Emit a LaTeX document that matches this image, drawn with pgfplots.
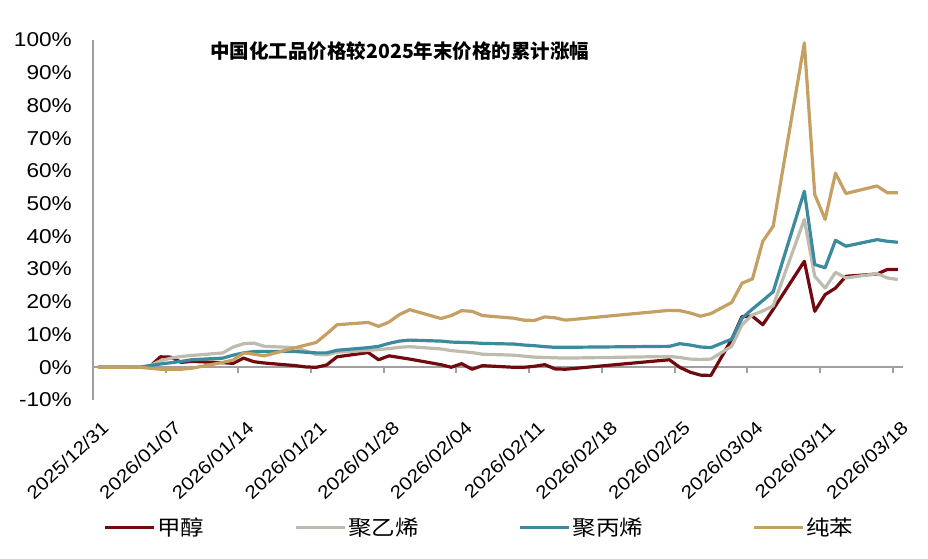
\documentclass[border=0pt]{standalone}
\usepackage{pgfplots}
\pgfplotsset{compat=1.18}
\usepackage{fontspec}
\setmainfont{Liberation Sans}[FakeStretch=1.13]
\newfontfamily\cjk{Noto Sans CJK SC}[FakeStretch=1.12]
\newfontfamily\cjktitle{Noto Sans CJK SC}

\definecolor{cmeth}{RGB}{112,10,14}
\definecolor{cpe}{RGB}{190,188,174}
\definecolor{cpp}{RGB}{60,138,158}
\definecolor{cbz}{RGB}{196,160,98}
\definecolor{axgray}{RGB}{160,160,160}

\begin{document}
\begin{tikzpicture}[x=1pt,y=1pt]
\useasboundingbox (0,0) rectangle (928,558);

% zero line with weekly ticks
\begin{axis}[
  at={(93pt,158pt)}, anchor=south west,
  scale only axis, width=810pt, height=360pt,
  xmin=0, xmax=78, ymin=-10, ymax=100,
  axis x line=middle, axis y line=none,
  axis line style={-, draw=axgray, line width=2pt},
  xtick={0,7,...,77}, xticklabels={},
  ytick=\empty,
  tick align=outside, major tick length=6pt,
  xtick style={draw=axgray, line width=2pt},
]
\end{axis}

\begin{axis}[
  at={(93pt,158pt)}, anchor=south west,
  scale only axis, width=810pt, height=360pt,
  xmin=0, xmax=78, ymin=-10, ymax=100,
  clip=false,
  axis y line*=left, axis x line*=bottom,
  axis line style={-},
  x axis line style={draw=none},
  y axis line style={draw=axgray, line width=2pt},
  xtick style={draw=none}, ytick style={draw=none},
  ytick={-10,0,...,100},
  yticklabels={-10\%,0\%,10\%,20\%,30\%,40\%,50\%,60\%,70\%,80\%,90\%,100\%},
  yticklabel style={font=\fontsize{20}{24}\selectfont, inner sep=0pt, anchor=east, xshift=-21pt},
  xtick={0.5,7.5,14.5,21.5,28.5,35.5,42.5,49.5,56.5,63.5,70.5,77.5},
  xticklabels={2025/12/31,2026/01/07,2026/01/14,2026/01/21,2026/01/28,2026/02/04,2026/02/11,2026/02/18,2026/02/25,2026/03/04,2026/03/11,2026/03/18},
  xticklabel style={font=\fontsize{18.3}{21}\selectfont, inner sep=0pt, rotate=43, anchor=north east, xshift=-11.5pt, yshift=-16pt},
  legend columns=4,
  legend style={at={(0,0)}, anchor=west, xshift=10pt, yshift=-127pt,
    draw=none, fill=none, inner sep=0pt,
    font=\cjk\fontsize{21}{24}\selectfont,
    /tikz/column 2/.style={column sep=88pt},
    /tikz/column 4/.style={column sep=98pt},
    /tikz/column 6/.style={column sep=107pt}},
  legend image code/.code={\draw[#1, line width=3pt] (0pt,0pt) -- (49pt,0pt);},
  every axis plot/.append style={line width=3.2pt, line join=round},
]
\addplot[cmeth] coordinates {
(0.5,0) (4.5,0) (5.5,0.3) (6.5,3.2) (7.5,3.1) (8.5,1.5) (9.5,1.8)
(12.5,1.4) (13.5,1.2) (14.5,2.8) (15.5,1.7) (16.5,1.3)
(19.5,0.5) (20.5,0.1) (21.5,0.0) (22.5,0.7) (23.5,3.2)
(26.5,4.5) (27.5,2.3) (28.5,3.5) (29.5,3.0) (30.5,2.5)
(33.5,0.8) (34.5,0.0) (35.5,1.1) (36.5,-0.6) (37.5,0.5)
(40.5,0.0) (41.5,0.0) (42.5,0.3) (43.5,0.8) (44.5,-0.5) (45.5,-0.6)
(55.5,2.3) (56.5,0.0) (57.5,-1.5) (58.5,-2.4) (59.5,-2.5)
(61.5,8.5) (62.5,15.5) (63.5,15.6) (64.5,13.0) (65.5,17.7)
(68.5,32.4) (69.5,17.1) (70.5,22.2) (71.5,24.2) (72.5,27.8)
(75.5,28.5) (76.5,29.9) (77.5,29.9)
};
\addlegendentry{甲醇}
\addplot[cpe] coordinates {
(0.5,0) (4.5,0.1) (5.5,0.5) (6.5,2.0) (7.5,2.8) (8.5,3.3) (9.5,3.6)
(12.5,4.4) (13.5,6.2) (14.5,7.2) (15.5,7.4) (16.5,6.4)
(19.5,6.0) (20.5,5.0) (21.5,3.9) (22.5,3.8) (23.5,4.6)
(26.5,5.2) (27.5,5.4) (28.5,5.7) (29.5,6.1) (30.5,6.3)
(33.5,5.6) (34.5,5.1) (35.5,4.8) (36.5,4.5) (37.5,4.0)
(40.5,3.7) (41.5,3.4) (42.5,3.1) (43.5,3.0) (44.5,2.9) (45.5,2.8)
(55.5,3.3) (56.5,3.0) (57.5,2.5) (58.5,2.4) (59.5,2.5)
(61.5,6.4) (62.5,13.0) (63.5,16.0) (64.5,17.2) (65.5,18.8)
(68.5,45.2) (69.5,27.8) (70.5,24.2) (71.5,29.0) (72.5,27.3)
(75.5,28.6) (76.5,27.3) (77.5,26.8)
};
\addlegendentry{聚乙烯}
\addplot[cpp] coordinates {
(0.5,0) (4.5,0) (5.5,0.5) (6.5,1.0) (7.5,1.4) (8.5,1.8) (9.5,2.3)
(12.5,2.8) (13.5,3.7) (14.5,4.4) (15.5,4.8) (16.5,4.8)
(19.5,4.8) (20.5,4.6) (21.5,4.4) (22.5,4.4) (23.5,5.2)
(26.5,6.0) (27.5,6.4) (28.5,7.3) (29.5,8.0) (30.5,8.3)
(33.5,8.0) (34.5,7.7) (35.5,7.6) (36.5,7.5) (37.5,7.3)
(40.5,7.1) (41.5,6.8) (42.5,6.6) (43.5,6.3) (44.5,6.1) (45.5,6.1)
(55.5,6.4) (56.5,7.2) (57.5,6.8) (58.5,6.2) (59.5,6.0)
(61.5,8.6) (62.5,15.0) (63.5,17.8) (64.5,20.4) (65.5,23.1)
(68.5,53.8) (69.5,31.4) (70.5,30.4) (71.5,38.8) (72.5,37.0)
(75.5,39.0) (76.5,38.5) (77.5,38.2)
};
\addlegendentry{聚丙烯}
\addplot[cbz] coordinates {
(0.5,0) (4.5,0) (5.5,-0.3) (6.5,-0.6) (7.5,-0.6) (8.5,-0.6) (9.5,-0.3)
(12.5,1.5) (13.5,2.2) (14.5,4.4) (15.5,4.0) (16.5,3.5)
(19.5,6.0) (20.5,6.8) (21.5,7.6) (22.5,10.2) (23.5,13.0)
(26.5,13.7) (27.5,12.5) (28.5,13.8) (29.5,16.1) (30.5,17.6)
(33.5,14.9) (34.5,15.8) (35.5,17.3) (36.5,17.1) (37.5,15.8)
(40.5,15.0) (41.5,14.4) (42.5,14.3) (43.5,15.4) (44.5,15.1) (45.5,14.4)
(55.5,17.4) (56.5,17.3) (57.5,16.6) (58.5,15.6) (59.5,16.4)
(61.5,19.8) (62.5,25.7) (63.5,27.0) (64.5,38.5) (65.5,43.1)
(68.5,99.1) (69.5,52.8) (70.5,45.2) (71.5,59.3) (72.5,53.1)
(75.5,55.4) (76.5,53.3) (77.5,53.3)
};
\addlegendentry{纯苯}
\node[font=\cjktitle\bfseries\fontsize{19.5}{24}\selectfont] at (rel axis cs:0.379,0.970) {中国化工品价格较2025年末价格的累计涨幅};
\end{axis}
\end{tikzpicture}
\end{document}
